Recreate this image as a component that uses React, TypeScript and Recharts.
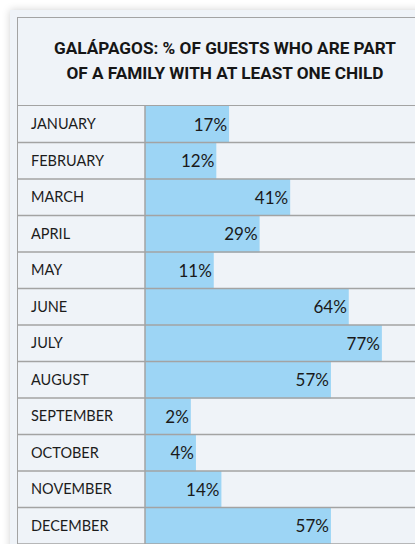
import { BarChart, Bar, XAxis, YAxis, LabelList } from 'recharts';

const months = [
    'JANUARY', 'FEBRUARY', 'MARCH', 'APRIL', 'MAY', 'JUNE',
    'JULY', 'AUGUST', 'SEPTEMBER', 'OCTOBER', 'NOVEMBER', 'DECEMBER',
];
const familyShare = [17, 12, 41, 29, 11, 64, 77, 57, 2, 4, 14, 57];
const titleLines = [
    'GALÁPAGOS: % OF GUESTS WHO ARE PART',
    'OF A FAMILY WITH AT LEAST ONE CHILD',
];

const data = months.map((month, i) => ({ month, share: familyShare[i] }));

// the bars in the original start left of zero so every label fits inside
const AXIS_MIN = -16;
const AXIS_MAX = 90;

const CHART_W = 398;
const CHART_H = 438;
const LINE = '#a3a3a3';
const rowH = CHART_H / months.length;

function MonthTick(props: any) {
    const { y, payload } = props;
    return (
        <g>
            <text
                x={14}
                y={y}
                dy={5}
                textAnchor="start"
                fontFamily="Lato, 'Noto Sans', sans-serif"
                fontSize={14.5}
                fill="#1c1c1c"
            >
                {payload.value}
            </text>
            <line x1={0} x2={CHART_W} y1={y + rowH / 2} y2={y + rowH / 2} stroke={LINE} strokeWidth={1.5} />
        </g>
    );
}

export default function App() {
    return (
        <div style={{ position: 'fixed', left: 0, top: 0, width: 415, height: 544, overflow: 'hidden', background: '#fff' }}>
            <div
                style={{
                    position: 'absolute', left: 10, top: 10, width: 600, height: 700,
                    background: '#eff3f8', boxShadow: '0 0 8px rgba(0,0,0,0.18)',
                }}
            />
            <div
                style={{
                    position: 'absolute', left: 17, top: 17, width: 600, height: 700,
                    borderTop: `1.5px solid ${LINE}`, borderLeft: `1.5px solid ${LINE}`,
                }}
            />
            <div
                style={{
                    position: 'absolute', left: 17, top: 17, width: 416, height: 89,
                    borderBottom: `1.5px solid ${LINE}`, boxSizing: 'border-box',
                    display: 'flex', flexDirection: 'column', justifyContent: 'center', alignItems: 'center',
                    fontFamily: "'Liberation Sans Narrow', 'Roboto', sans-serif", fontWeight: 700,
                    fontSize: 17.2, lineHeight: '25px', color: '#161616',
                }}
            >
                {titleLines.map((t) => (
                    <div key={t}>{t}</div>
                ))}
            </div>
            <div style={{ position: 'absolute', left: 17, top: 106 }}>
                <BarChart
                    width={CHART_W}
                    height={CHART_H}
                    data={data}
                    layout="vertical"
                    barCategoryGap={0}
                    margin={{ top: 0, right: 0, bottom: 0, left: 0 }}
                >
                    <XAxis type="number" domain={[AXIS_MIN, AXIS_MAX]} allowDataOverflow hide />
                    <YAxis
                        type="category"
                        dataKey="month"
                        width={128}
                        axisLine={{ stroke: LINE, strokeWidth: 1.5 }}
                        tickLine={false}
                        tick={<MonthTick />}
                        interval={0}
                    />
                    <Bar
                        dataKey={(d: any) => [AXIS_MIN, d.share]}
                        fill="#9dd5f5"
                        isAnimationActive={false}
                    >
                        <LabelList
                            position="insideRight"
                            offset={2}
                            formatter={(v: any) => `${Array.isArray(v) ? v[1] : v}%`}
                            fill="#1a1a1a"
                            style={{ fontFamily: "Lato, 'Noto Sans', sans-serif", fontSize: 17 }}
                        />
                    </Bar>
                </BarChart>
            </div>
        </div>
    );
}
